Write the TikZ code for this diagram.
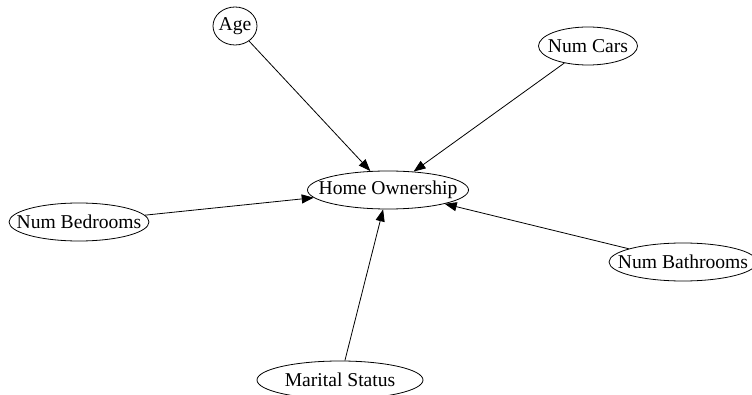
\documentclass[tikz,border=0pt]{standalone}
\usepackage{fontspec}
\setmainfont{Liberation Serif}
\usetikzlibrary{shapes.geometric,arrows.meta}
\begin{document}
\begin{tikzpicture}[x=1pt,y=-1pt,
    var/.style={ellipse, draw, line width=0.8pt, inner sep=0pt, minimum height=38pt, font=\fontsize{19.6}{20}\selectfont},
    edge/.style={line width=0.8pt, -{Triangle[length=12pt,width=9pt]}}]
  \useasboundingbox (0,0) rectangle (752,395);
  \node[var, minimum width=44pt] (age) at (235,26) {\makebox[0pt]{Age}};
  \node[var, minimum width=99pt] (cars) at (588,46) {\makebox[0pt]{Num Cars}};
  \node[var, minimum width=161pt] (home) at (388,190) {\makebox[0pt]{Home Ownership}};
  \node[var, minimum width=140pt] (bed) at (79,222) {\makebox[0pt]{Num Bedrooms}};
  \node[var, minimum width=148pt] (bath) at (683,262) {\makebox[0pt]{Num Bathrooms}};
  \node[var, minimum width=166pt] (marital) at (340,380) {\makebox[0pt]{Marital Status}};

  \draw[edge] (age) -- (home);
  \draw[edge] (cars) -- (home);
  \draw[edge] (bed) -- (home);
  \draw[edge] (bath) -- (home);
  \draw[edge] (marital) -- (home);
\end{tikzpicture}
\end{document}
